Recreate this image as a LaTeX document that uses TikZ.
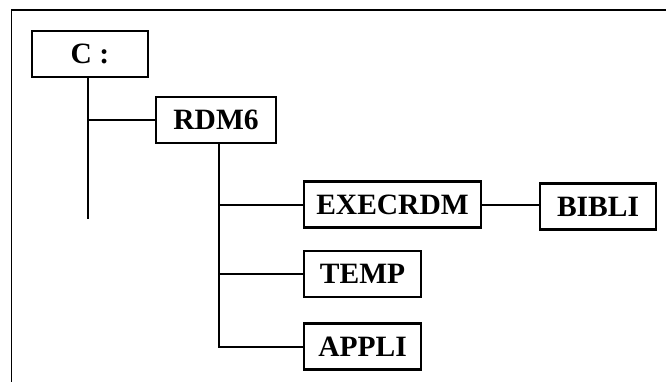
\documentclass[tikz,border=0pt]{standalone}
\usepackage{fontspec}
\setmainfont{Liberation Serif}
\usepackage{tikz}

\begin{document}
\begin{tikzpicture}[x=1pt,y=1pt,
  dirbox/.style={draw=black, line width=2.2pt, inner sep=0pt, minimum height=46pt,
    font=\fontsize{29.5}{31}\selectfont\bfseries},
  tree/.style={line width=2pt}]
\useasboundingbox (0,0) rectangle (666,381);
% outer frame (only left and top edges visible)
\draw[line width=1.4pt] (11.5,-5) -- (11.5,371) -- (680,371);
\node[dirbox, minimum width=116pt] (croot) at (90,327) {C :};
\node[dirbox, minimum width=120pt] (rdm) at (216,261) {RDM6};
\node[dirbox, minimum width=177pt] (exec) at (392.5,176.5) {EXECRDM};
\node[dirbox, minimum width=116pt] (bibli) at (598,174.5) {BIBLI};
\node[dirbox, minimum width=117pt] (temp) at (362.5,107) {TEMP};
\node[dirbox, minimum width=117pt] (appli) at (362.5,34.5) {APPLI};
\coordinate (cend) at (88,162);
\coordinate (rtop) at (219,238);
% branches
\draw[tree] (cend |- croot.south) -- (cend);
\draw[tree] (cend |- rdm.west) -- (rdm.west);
\draw[tree] (rtop) |- (appli.west);
\draw[tree] (rtop |- exec.west) -- (exec.west);
\draw[tree] (rtop |- temp.west) -- (temp.west);
\draw[tree] (exec.east) -- (bibli.west |- exec.east);
\end{tikzpicture}
\end{document}
